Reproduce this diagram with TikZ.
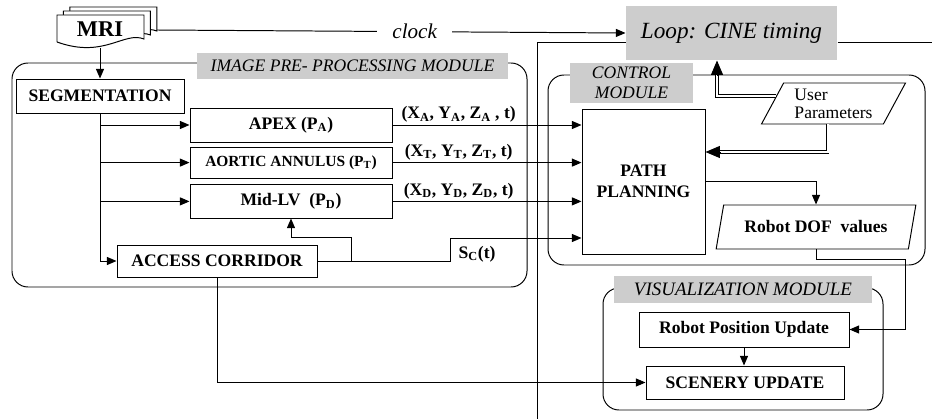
\documentclass[tikz,border=0pt]{standalone}
\usepackage{fontspec}
\setmainfont{Liberation Serif}
\usetikzlibrary{arrows.meta,shapes.geometric}

\definecolor{labelgray}{RGB}{205,205,205}

\tikzset{
  module/.style={draw,rounded corners=0.4cm},
  modlabel/.style={fill=labelgray,inner sep=0pt,align=center,
    font=\fontsize{12.5}{14}\selectfont\itshape},
  procbox/.style={draw,fill=white,inner sep=0pt,align=center,
    font=\fontsize{12.5}{15}\selectfont\bfseries},
  databox/.style={trapezium,trapezium stretches=true,draw,fill=white,inner sep=0pt},
  lbl/.style={font=\fontsize{12.5}{14}\selectfont\bfseries,inner sep=1.5pt},
  dbl/.style={double,double distance=1.4pt,shorten >=3mm},
  bigtip/.style={-{Triangle[length=3.6mm,width=3mm]}}
}

\begin{document}
\begin{tikzpicture}[line width=0.7pt,>={Triangle[length=2.4mm,width=2mm]}]
\useasboundingbox (0,0) rectangle (23.3,10.475);

% modules
\draw[module] (0.3,3.3) rectangle (13.175,8.9);
\draw[module] (13.7,3.85) rectangle (23.125,8.6);
\draw[module] (15.075,0.225) rectangle (22.075,3.275);

\node[modlabel,minimum width=7.775cm,minimum height=0.65cm] (imglbl) at (8.8125,8.825) {IMAGE PRE- PROCESSING MODULE};
\node[modlabel,minimum width=3.075cm,minimum height=1cm] (ctrllbl) at (15.7875,8.4) {CONTROL\\MODULE};
\node[modlabel,minimum width=6.45cm,minimum height=0.675cm,font=\fontsize{13.5}{15}\selectfont\itshape] (vislbl) at (18.575,3.2375) {VISUALIZATION MODULE};

% loop
\node[fill=labelgray,minimum width=5.275cm,minimum height=1.35cm,font=\fontsize{16.5}{18}\selectfont\itshape] (loop) at (18.2875,9.65) {Loop: CINE timing};
\draw (loop.west |- 0,9.425) -- (13.425,9.425) -- (13.425,0);
\draw (loop.east |- 0,9.425) -- (23.3,9.425);

% MRI stack
\foreach \s in {0.32,0.16,0}
  \draw[fill=white,shift={(\s,0.625*\s)}] (1.425,9.425) -- (1.425,10.1) -- (3.6,10.1) -- (3.6,9.5)
    .. controls (3.1,9.7) and (2.6,9.0) .. (1.425,9.425);
\node[font=\fontsize{16}{18}\selectfont\bfseries] (mri) at (2.5,9.75) {MRI};
\coordinate (mribot) at (2.5,9.28);
\coordinate (mriR) at (3.925,9.725);

% boxes
\node[procbox,minimum width=4.2cm,minimum height=0.85cm] (seg) at (2.5,8.075) {SEGMENTATION};
\node[procbox,minimum width=5.05cm,minimum height=0.85cm] (apex) at (7.275,7.35) {APEX (P\textsubscript{A})};
\node[procbox,minimum width=5.05cm,minimum height=0.78cm,font=\fontsize{11}{13}\selectfont\bfseries] (aortic) at (7.275,6.41) {AORTIC ANNULUS (P\textsubscript{T})};
\node[procbox,minimum width=5.05cm,minimum height=0.83cm] (midlv) at (7.275,5.44) {Mid-LV\ \ (P\textsubscript{D})};
\node[procbox,minimum width=5cm,minimum height=0.8cm] (corr) at (5.425,3.95) {ACCESS CORRIDOR};
\node[procbox,minimum width=3.075cm,minimum height=3.625cm] (path) at (16.0875,5.9375) {PATH\\PLANNING};
\node[databox,trapezium left angle=60,trapezium right angle=120,minimum width=3.625cm,minimum height=1.025cm,
  align=left,font=\fontsize{12.5}{13}\selectfont] (user) at (20.8375,7.8875) {User\\Parameters};
\node[databox,trapezium left angle=65,trapezium right angle=115,minimum width=5cm,minimum height=1.1cm,
  font=\fontsize{12.5}{14}\selectfont\bfseries] (dof) at (20.4,4.8) {Robot DOF\ \ values};
\node[procbox,minimum width=5.25cm,minimum height=0.875cm] (rpu) at (18.6,2.2375) {Robot Position Update};
\node[procbox,minimum width=4.95cm,minimum height=0.825cm] (scen) at (18.625,0.9125) {SCENERY UPDATE};

% connectors
\draw[->] (mriR) -- node[pos=0.55,fill=white,inner xsep=11pt,font=\fontsize{15}{17}\selectfont\itshape] (clk) {clock} (loop.west);
\draw[->] (mribot) -- (seg.north);
\draw[->] (seg.south) |- (corr.west);
\foreach \b in {apex,aortic,midlv}
  \draw[->] (seg.south |- \b.west) -- (\b.west);

\draw[->] (apex.east) -- node[lbl,above,pos=0.35] (xa) {(X\textsubscript{A}, Y\textsubscript{A}, Z\textsubscript{A} , t)} (apex.east -| path.west);
\draw[->] (aortic.east) -- node[lbl,above,pos=0.35] (xt) {(X\textsubscript{T}, Y\textsubscript{T}, Z\textsubscript{T}, t)} (aortic.east -| path.west);
\draw[->] (midlv.east) -- node[lbl,above,pos=0.35] (xd) {(X\textsubscript{D}, Y\textsubscript{D}, Z\textsubscript{D}, t)} (midlv.east -| path.west);

\draw[->] (corr.east) -- ++(0.85,0) |- (midlv.south |- 0,4.55) -- (midlv.south);
\draw[->] (corr.east) -- ++(3.325,0) |- (path.west |- 0,4.525);
\node[lbl,anchor=west] (sc) at (11.4,4.12) {S\textsubscript{C}(t)};

% user parameters (double lines)
\draw[dbl] (user.173) -| (loop.south -| 17.925,0);
\draw[bigtip] (17.925,8.6) -- (loop.south -| 17.925,0);
\draw[dbl] ([xshift=-0.15cm]user.south) |- (path.east |- 0,6.675);
\draw[bigtip] (18.0,6.675) -- (path.east |- 0,6.675);

\draw[->] (path.east) -| (dof.north);
\draw[->] (dof.south) |- (22.625,4.0) |- (rpu.east);
\draw[->] (rpu.south) -- (rpu.south |- scen.north);
\draw[->] (corr.south) |- (scen.west);
\end{tikzpicture}
\end{document}
